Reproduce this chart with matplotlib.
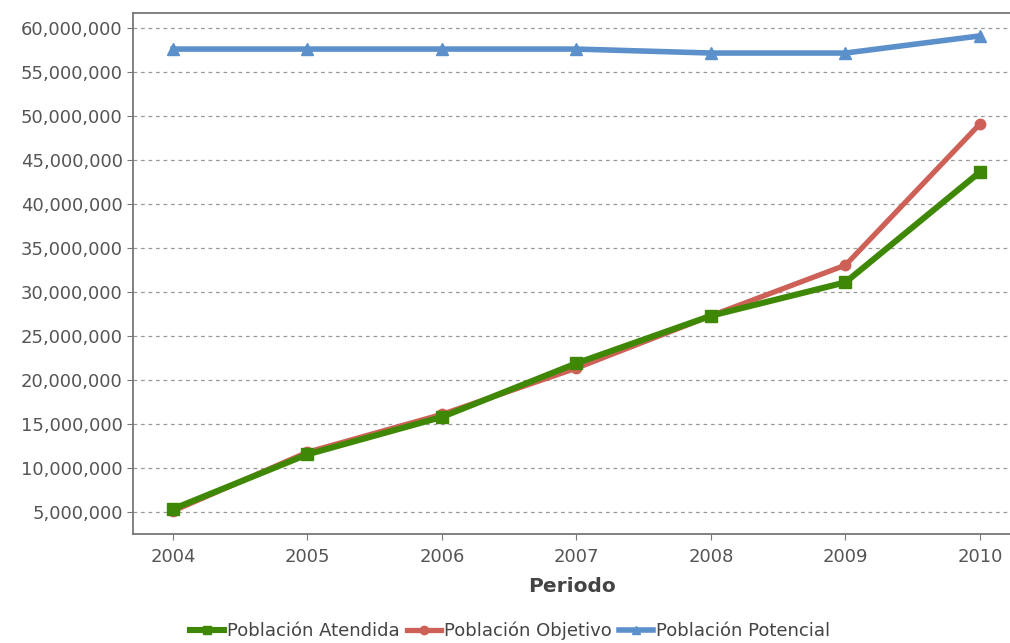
import matplotlib.pyplot as plt
from matplotlib.ticker import FuncFormatter, MultipleLocator

# Population series by year
years = [2004, 2005, 2006, 2007, 2008, 2009, 2010]
atendida = [5340000, 11550000, 15800000, 21900000, 27300000, 31100000, 43640000]
objetivo = [5100000, 11800000, 16100000, 21350000, 27300000, 33050000, 49100000]
potencial = [57600000, 57600000, 57600000, 57600000, 57150000, 57150000, 59100000]

GREEN = "#3f8806"
RED = "#cd6157"
BLUE = "#5b90cb"
GRAY = "#555555"

fig = plt.figure(figsize=(10.10, 6.43), dpi=100)
ax = fig.add_axes([0.1317, 0.1695, 0.8683, 0.8103])

ax.plot(years, potencial, color=BLUE, lw=4.0, marker="^", ms=8,
        label="Población Potencial", zorder=3)
ax.plot(years, objetivo, color=RED, lw=3.8, marker="o", ms=7.5,
        label="Población Objetivo", zorder=4)
ax.plot(years, atendida, color=GREEN, lw=4.4, marker="s", ms=8,
        label="Población Atendida", zorder=5)

ax.set_xlim(2003.703, 2010.223)
ax.set_ylim(2.5e6, 61.7e6)
ax.set_xticks(years)
ax.yaxis.set_major_locator(MultipleLocator(5e6))
ax.yaxis.set_major_formatter(FuncFormatter(lambda v, p: f"{int(v):,}"))

ax.grid(axis="y", linestyle=(0, (3, 3)), color="#999999", lw=0.9)
ax.set_axisbelow(True)

for side in ("left", "bottom", "top"):
    ax.spines[side].set_color("#777777")
    ax.spines[side].set_linewidth(1.3)
ax.spines["right"].set_visible(False)

ax.tick_params(axis="both", colors="#777777", labelcolor=GRAY,
               labelsize=13, length=4)
ax.tick_params(axis="x", pad=6)

ax.set_xlabel("Periodo", fontsize=14.5, fontweight="bold", color="#444444",
              labelpad=8)

handles, labels = ax.get_legend_handles_labels()
order = [2, 1, 0]
ax.legend([handles[i] for i in order], [labels[i] for i in order],
          loc="center", bbox_to_anchor=(0.43, -0.186),
          ncol=3, frameon=False, fontsize=13, handlelength=1.9,
          handletextpad=0.15, columnspacing=0.4, labelcolor="#444444",
          markerscale=0.8, borderpad=0.2)

fig.savefig("out.png", dpi=100)
